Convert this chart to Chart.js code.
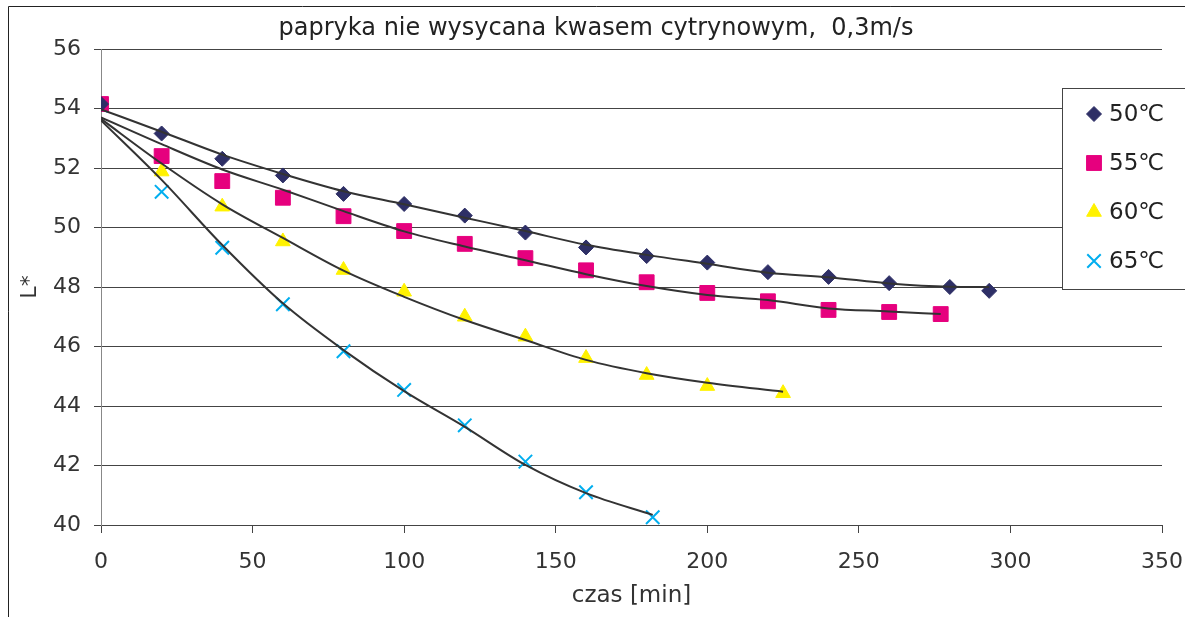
<!DOCTYPE html>
<html>
<head>
<meta charset="utf-8">
<script src="https://cdn.jsdelivr.net/npm/chart.js"></script>
<style>
body{margin:0;background:#fff;}
#wrap{position:relative;width:1185px;height:617px;}
</style>
</head>
<body>
<div id="wrap"><canvas id="chart" width="1185" height="617"></canvas></div>
<script>

// DATA
let chartTitle = "papryka nie wysycana kwasem cytrynowym,  0,3m/s";
let xTitle = "czas [min]";
let yTitle = "L*";
let seriesNames = ["50℃","55℃","60℃","65℃"];

let time50 = [0,20,40,60,80,100,120,140,160,180,200,220,240,260,280,293];
let l50 = [54.15,53.16,52.31,51.75,51.13,50.79,50.4,49.83,49.33,49.04,48.82,48.5,48.34,48.13,48.0,47.87];
let trend50 = [53.97,53.22,52.45,51.8,51.22,50.78,50.33,49.88,49.42,49.08,48.78,48.48,48.33,48.12,48.01,48.0];

let time55 = [0,20,40,60,80,100,120,140,160,180,200,220,240,260,277];
let l55 = [54.15,52.4,51.56,51.0,50.38,49.88,49.45,48.97,48.56,48.16,47.8,47.52,47.23,47.16,47.09];
let trend55 = [53.7,52.8,51.95,51.27,50.55,49.87,49.36,48.9,48.43,48.03,47.73,47.56,47.28,47.18,47.09];

let time60 = [0,20,40,60,80,100,120,140,160,180,200,225];
let l60 = [54.1,51.88,50.7,49.53,48.57,47.84,47.0,46.33,45.61,45.04,44.67,44.43];
let trend60 = [53.65,52.15,50.78,49.65,48.55,47.67,46.89,46.22,45.55,45.1,44.78,44.48];

let time65 = [0,20,40,60,80,100,120,140,160,182];
let l65 = [54.1,51.2,49.32,47.42,45.84,44.54,43.35,42.13,41.1,40.26];
let trend65 = [53.6,51.6,49.41,47.45,45.88,44.5,43.3,42.02,41.07,40.34];

let xTicks = [0,50,100,150,200,250,300,350];
let yTicks = [40,42,44,46,48,50,52,54,56];


// STYLE
let font = "'DejaVu Sans', 'Liberation Sans', Arial, sans-serif";
let markers = [
{style:"rectRot", color:"#2E2F66", radius:7.5, border:1},
{style:"rect", color:"#E6007E", radius:10.5, border:1},
{style:"triangle", color:"#FFF200", radius:8.5, border:1},
{style:"crossRot", color:"#00AEEF", radius:9.5, border:2}
];

function pts(xs, ys){
return xs.map((x,i)=>({x:x, y:ys[i]}));
}

let times = [time50,time55,time60,time65];
let values = [l50,l55,l60,l65];
let trends = [trend50,trend55,trend60,trend65];

let datasets = [];

// TRENDLINES (on top)
trends.forEach((t,i)=>{
datasets.push({
label:"trend "+seriesNames[i],
data:pts(times[i],t),
showLine:true,
borderColor:"#333",
borderWidth:2,
pointRadius:0,
cubicInterpolationMode:"monotone",
order:0
});
});

// MEASURED POINTS
values.forEach((v,i)=>{
let m = markers[i];
datasets.push({
label:seriesNames[i],
data:pts(times[i],v),
showLine:false,
pointStyle:m.style,
pointRadius:m.radius,
pointBackgroundColor:m.color,
pointBorderColor:m.color,
pointBorderWidth:m.border,
order:1
});
});


// FRAME + TITLE + LEGEND
let decor = {
id:"decor",
beforeDraw(chart){
let ctx = chart.ctx;
ctx.save();
ctx.fillStyle="#fff";
ctx.fillRect(0,0,chart.width,chart.height);
ctx.strokeStyle="#222";
ctx.lineWidth=1;
ctx.beginPath();
ctx.moveTo(8.5,chart.height);
ctx.lineTo(8.5,6.5);
ctx.lineTo(chart.width,6.5);
ctx.stroke();

// title, centred on the frame not the plot
ctx.fillStyle="#222";
ctx.font="24px "+font;
ctx.textAlign="center";
ctx.textBaseline="middle";
ctx.fillText(chartTitle,596,29);
ctx.restore();
},
afterDraw(chart){
let ctx = chart.ctx;
ctx.save();
ctx.fillStyle="#fff";
ctx.strokeStyle="#444";
ctx.lineWidth=1;
ctx.fillRect(1062,88,200,201);
ctx.strokeRect(1062.5,88.5,200,201);

let rows = [114,163,212,261];
seriesNames.forEach((name,i)=>{
let m = markers[i];
ctx.fillStyle=m.color;
ctx.strokeStyle=m.color;
ctx.lineWidth=m.border;
Chart.helpers.drawPoint(ctx,{pointStyle:m.style,radius:m.radius,borderWidth:m.border,rotation:0},1094,rows[i]);
ctx.fillStyle="#222";
ctx.font="23px "+font;
ctx.textBaseline="middle";
ctx.textAlign="left";
ctx.fillText(name,1109,rows[i]+1);
});
ctx.restore();
}
};


// CHART
new Chart(document.getElementById("chart"),{
type:"scatter",
data:{datasets:datasets},
plugins:[decor],
options:{
responsive:false,
animation:false,
layout:{padding:{left:0,right:23,top:49,bottom:0}},
plugins:{
legend:{display:false},
tooltip:{enabled:false},
title:{display:false}
},
scales:{
x:{
type:"linear",
min:xTicks[0],
max:xTicks[xTicks.length-1],
afterBuildTicks(scale){ scale.ticks = xTicks.map(v=>({value:v})); },
afterFit(scale){ scale.height = 92; scale.paddingLeft = 0; scale.paddingRight = 0; },
grid:{drawOnChartArea:false,tickLength:8,color:"#444"},
border:{color:"#444"},
ticks:{color:"#333",font:{family:font,size:22},padding:16,maxRotation:0},
title:{display:true,text:xTitle,color:"#333",font:{family:font,size:23},padding:{top:0,bottom:7}}
},
y:{
type:"linear",
min:yTicks[0],
max:yTicks[yTicks.length-1],
afterBuildTicks(scale){ scale.ticks = yTicks.map(v=>({value:v})); },
afterFit(scale){ scale.width = 101; },
grid:{color:"#444",tickLength:7},
border:{color:"#888"},
ticks:{color:"#333",font:{family:font,size:22},padding:13},
title:{display:true,text:yTitle,color:"#333",font:{family:font,size:22},padding:{top:17,bottom:0}}
}
}
}
});
</script>
</body>
</html>
